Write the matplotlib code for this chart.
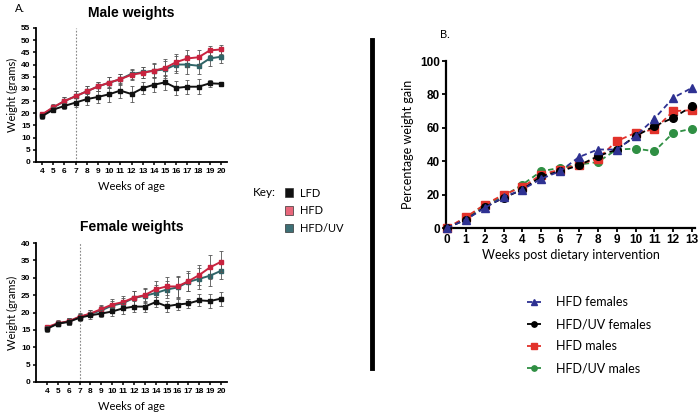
import matplotlib
matplotlib.use("Agg")
import matplotlib.pyplot as plt
from matplotlib.lines import Line2D
from matplotlib.patches import Patch

plt.rcParams['font.family'] = ['Liberation Sans', 'DejaVu Sans']

# ---------------- data ----------------
weeks = list(range(4, 21))

male_lfd = [18.8, 21.5, 23.0, 24.4, 25.8, 26.7, 27.8, 29.3, 27.9, 30.3, 31.7, 32.7, 30.4, 30.9, 30.9, 32.3, 32.1]
male_lfd_err = [1.0, 1.0, 1.3, 2.0, 2.3, 2.5, 3.0, 3.0, 3.2, 2.5, 3.0, 3.0, 3.0, 2.8, 3.0, 1.5, 0.8]
male_hfd = [19.5, 22.5, 25.0, 27.0, 29.0, 31.0, 32.6, 34.0, 35.8, 36.6, 37.5, 38.6, 41.0, 42.5, 43.0, 45.8, 46.2]
male_hfd_err = [1.0, 1.2, 1.5, 2.0, 2.0, 2.0, 2.2, 2.0, 2.0, 2.2, 2.8, 3.5, 3.5, 3.5, 3.0, 2.0, 2.0]
male_uv = [19.3, 22.3, 25.0, 27.0, 29.0, 31.0, 32.5, 34.0, 36.2, 36.8, 37.5, 38.0, 40.0, 40.0, 39.5, 42.5, 43.2]
male_uv_err = [1.0, 1.2, 1.5, 2.0, 2.0, 2.0, 2.2, 2.2, 2.0, 2.2, 3.0, 3.5, 3.5, 4.0, 3.5, 3.0, 2.5]

female_lfd = [15.3, 16.8, 17.3, 18.5, 19.2, 19.7, 20.3, 21.2, 21.7, 21.7, 23.0, 21.8, 22.3, 22.6, 23.5, 23.3, 24.0]
female_lfd_err = [0.8, 0.8, 1.0, 1.0, 1.0, 1.0, 1.3, 1.5, 1.5, 1.5, 1.5, 1.6, 1.6, 1.4, 1.7, 2.0, 2.0]
female_hfd = [15.8, 16.9, 17.5, 18.8, 19.7, 21.0, 22.3, 23.0, 24.3, 25.0, 26.7, 27.5, 27.5, 29.0, 30.8, 33.0, 34.6]
female_hfd_err = [0.6, 0.8, 1.0, 1.0, 1.0, 1.2, 1.5, 1.7, 2.0, 2.0, 2.3, 2.6, 3.0, 2.8, 2.8, 3.5, 3.0]
female_uv = [15.6, 16.8, 17.4, 18.7, 19.6, 20.6, 22.0, 22.7, 24.2, 24.8, 25.6, 26.6, 27.2, 28.8, 29.7, 30.6, 32.0]
female_uv_err = [0.6, 0.8, 1.0, 1.0, 1.0, 1.2, 1.4, 1.6, 2.0, 2.0, 2.2, 2.5, 3.0, 2.5, 3.0, 3.0, 2.5]

weeks_post = list(range(0, 14))
hfd_females = [0, 5, 12, 18.5, 23, 29.5, 34, 42.5, 47, 47, 55, 65.5, 78, 84]
uv_females = [0, 5, 12.5, 18, 23, 31, 34, 37.5, 43, 47, 55, 61, 66, 73]
hfd_males = [0, 6.5, 14, 20, 24.5, 32, 35, 38, 41.5, 52, 57, 59, 70, 70.5]
uv_males = [0, 6, 14, 19, 26, 34, 36, 38, 39.5, 47, 47.5, 46, 57, 59.5]

# ---------------- style ----------------
C_LFD = '#111111'
C_HFD = '#c8233f'
C_UV = '#2f6467'
C_HFD_KEY = '#e8677b'
C_UV_KEY = '#3d6f75'
C_BLUE = '#2e3192'
C_BLACK = '#000000'
C_RED = '#e2322b'
C_GREEN = '#2f8f43'
LABEL_FONT = ['Lato', 'DejaVu Sans']

W, H = 700, 416
fig = plt.figure(figsize=(7, 4.16), dpi=100)


def px_axes(left, right, top, bottom):
    return fig.add_axes([left / W, 1 - bottom / H, (right - left) / W, (bottom - top) / H])


def style_weight_axes(ax):
    for s in ['top', 'right']:
        ax.spines[s].set_visible(False)
    for s in ['left', 'bottom']:
        ax.spines[s].set_linewidth(1.3)
    ax.tick_params(axis='both', direction='out', length=2.5, width=1.1, pad=1.5)
    ax.set_xticks(weeks)
    for lab in ax.get_xticklabels() + ax.get_yticklabels():
        lab.set_fontweight('bold')
        lab.set_fontsize(6)
    ax.set_xlabel('Weeks of age', fontsize=8, family=LABEL_FONT, labelpad=5)
    ax.set_ylabel('Weight (grams)', fontsize=8, family=LABEL_FONT, labelpad=2)


def plot_weights(ax, series):
    ax.axvline(7, color='#888888', lw=0.8, ls=(0, (1.5, 1.5)), zorder=1)
    for y, e, c, z in series:
        ax.errorbar(weeks, y, yerr=e, color=c, lw=1.4, marker='s', ms=2.2,
                    ecolor='#555555', elinewidth=0.6, capsize=1.6, capthick=0.6, zorder=z)


# Male weights
ax1 = px_axes(36, 227, 28, 162)
plot_weights(ax1, [(male_uv, male_uv_err, C_UV, 3), (male_hfd, male_hfd_err, C_HFD, 4),
                   (male_lfd, male_lfd_err, C_LFD, 5)])
ax1.set_ylim(0, 55)
ax1.set_yticks(range(0, 56, 5))
ax1.set_xlim(3.46, 20.54)
style_weight_axes(ax1)
ax1.set_title('Male weights', fontsize=10, fontweight='bold', pad=8)

# Female weights
ax2 = px_axes(36, 227, 243, 382)
plot_weights(ax2, [(female_uv, female_uv_err, C_UV, 3), (female_hfd, female_hfd_err, C_HFD, 4),
                   (female_lfd, female_lfd_err, C_LFD, 5)])
ax2.set_ylim(0, 40)
ax2.set_yticks(range(0, 41, 5))
ax2.set_xlim(2.99, 20.55)
style_weight_axes(ax2)
ax2.set_title('Female weights', fontsize=10, fontweight='bold', pad=9)

fig.text(15 / W, 1 - 8 / H, 'A.', fontsize=8, va='center', ha='left', family=LABEL_FONT)

# Key
fig.text(253 / W, 1 - 193 / H, 'Key:', fontsize=8.5, va='center', ha='left', family=LABEL_FONT)
key_handles = [Patch(facecolor=C_LFD, edgecolor='#333333', lw=0.5),
               Patch(facecolor=C_HFD_KEY, edgecolor='#333333', lw=0.5),
               Patch(facecolor=C_UV_KEY, edgecolor='#333333', lw=0.5)]
fig.legend(key_handles, ['LFD', 'HFD', 'HFD/UV'], loc='upper left',
           bbox_to_anchor=(279 / W, 1 - 182 / H), frameon=False, handlelength=0.8, handleheight=0.8,
           handletextpad=0.6, labelspacing=0.6, borderpad=0, prop={'family': LABEL_FONT, 'size': 8})

# Divider
fig.add_artist(Line2D([372 / W, 372 / W], [1 - 40 / H, 1 - 368 / H], lw=3.5, color='black'))

# Percentage weight gain
ax3 = px_axes(446, 695, 61, 228)
dash = (0, (3, 2))
ax3.plot(weeks_post, uv_males, ls=dash, color=C_GREEN, marker='o', ms=5.5, lw=1.3, zorder=3, label='HFD/UV males')
ax3.plot(weeks_post, hfd_males, ls=dash, color=C_RED, marker='s', ms=5.5, lw=1.3, zorder=4, label='HFD males')
ax3.plot(weeks_post, uv_females, ls=dash, color=C_BLACK, marker='o', ms=5.5, lw=1.3, zorder=5, label='HFD/UV females')
ax3.plot(weeks_post, hfd_females, ls=dash, color=C_BLUE, marker='^', ms=6, lw=1.3, zorder=6, label='HFD females')
ax3.set_xlim(-0.05, 13.15)
ax3.set_ylim(0, 100)
ax3.set_xticks(weeks_post)
ax3.set_yticks(range(0, 101, 20))
for s in ['top', 'right']:
    ax3.spines[s].set_visible(False)
for s in ['left', 'bottom']:
    ax3.spines[s].set_linewidth(1.6)
ax3.tick_params(axis='both', direction='out', length=3, width=1.3, pad=1.5)
for lab in ax3.get_xticklabels() + ax3.get_yticklabels():
    lab.set_fontweight('bold')
    lab.set_fontsize(8.5)
ax3.set_xlabel('Weeks post dietary intervention', fontsize=9, family=LABEL_FONT, labelpad=2)
ax3.set_ylabel('Percentage weight gain', fontsize=9, family=LABEL_FONT, labelpad=4)
for ln in ax3.lines:
    ln.set_clip_on(False)

fig.text(440 / W, 1 - 35 / H, 'B.', fontsize=8, va='center', ha='left', family=LABEL_FONT)

h = {ln.get_label(): ln for ln in ax3.lines}
order = ['HFD females', 'HFD/UV females', 'HFD males', 'HFD/UV males']
fig.legend([h[k] for k in order], order, loc='upper left', bbox_to_anchor=(521 / W, 1 - 290 / H),
           frameon=False, handlelength=1.1, handletextpad=1.2, labelspacing=0.8, borderpad=0,
           markerscale=0.7, prop={'family': LABEL_FONT, 'size': 9})

fig.savefig('out.png', dpi=100)
